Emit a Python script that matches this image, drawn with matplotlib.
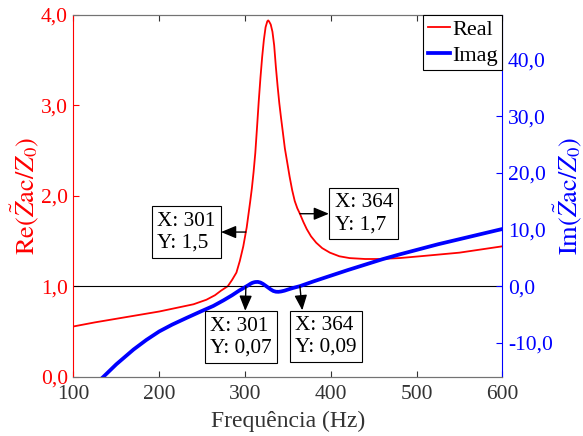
import matplotlib
matplotlib.use("Agg")
import matplotlib.pyplot as plt
import numpy as np
from matplotlib.ticker import FuncFormatter

plt.rcParams['font.family'] = ['Liberation Serif', 'DejaVu Serif']
plt.rcParams['mathtext.fontset'] = 'stix'

# ---- data ----
freq_re = [100, 125, 150, 175, 200, 225, 240, 255, 265, 272, 280, 285, 290, 294,
           298, 302, 304, 306, 308, 310, 312, 314, 316, 318, 320, 322, 324, 326,
           327, 328, 330, 332, 334, 336, 338, 340, 342, 344, 346.5, 349, 352,
           355, 358, 361, 364, 368, 372, 377, 383, 390, 399, 410, 422, 440, 457,
           480, 504, 550, 600]
real_part = [0.555, 0.60, 0.64, 0.68, 0.72, 0.77, 0.80, 0.85, 0.90, 0.95, 1.00,
             1.07, 1.15, 1.28, 1.44, 1.65, 1.79, 1.93, 2.08, 2.26, 2.47, 2.75,
             3.04, 3.30, 3.53, 3.72, 3.86, 3.925, 3.935, 3.925, 3.89, 3.81, 3.66,
             3.42, 3.21, 3.02, 2.86, 2.71, 2.52, 2.38, 2.21, 2.06, 1.94, 1.86,
             1.80, 1.71, 1.63, 1.55, 1.48, 1.42, 1.37, 1.33, 1.31, 1.30, 1.30,
             1.31, 1.33, 1.37, 1.44]

freq_im = [128, 135, 150, 170, 185, 200, 215, 232, 248, 263, 275, 285, 293, 302,
           304, 306, 308, 310, 312, 315, 318, 321, 324, 327, 330, 333, 336, 339,
           342, 346, 350, 356, 364, 380, 400, 420, 440, 460, 480, 500, 525, 550,
           575, 600]
imag_part = [-17.0, -16.0, -13.8, -11.2, -9.5, -8.0, -6.8, -5.6, -4.5, -3.5, -2.5,
             -1.6, -0.8, 0.0, 0.18, 0.38, 0.55, 0.66, 0.73, 0.75, 0.64, 0.40,
             0.08, -0.25, -0.58, -0.85, -0.98, -1.0, -0.94, -0.80, -0.60, -0.32,
             0.0, 0.85, 1.85, 2.85, 3.8, 4.75, 5.6, 6.4, 7.4, 8.3, 9.2, 10.1]

tip_x = [301, 364]
tip_re_labels = ['1,5', '1,7']
tip_im_labels = ['0,07', '0,09']

x_ticks = [100, 200, 300, 400, 500, 600]
left_ticks = [0, 1, 2, 3, 4]
right_ticks = [-10, 0, 10, 20, 30, 40]

fig = plt.figure(figsize=(5.83, 4.36), dpi=100)
ax = fig.add_axes([0.126, 0.136, 0.8616 - 0.126, 0.9667 - 0.136])
ax2 = ax.twinx()

comma = FuncFormatter(lambda v, p: f"{v:.1f}".replace('.', ','))

l1, = ax.plot(freq_re, real_part, color='red', lw=1.3, label='Real')
ax.axhline(1.0, color='black', lw=0.8)
l2, = ax2.plot(freq_im, imag_part, color='blue', lw=2.7, label='Imag')

ax.set_xlim(100, 600)
ax.set_ylim(0, 4)
ax2.set_ylim(-16, 48)
ax.set_xticks(x_ticks)
ax.set_yticks(left_ticks)
ax2.set_yticks(right_ticks)
ax.yaxis.set_major_formatter(comma)
ax2.yaxis.set_major_formatter(comma)

ax.tick_params(axis='x', direction='in', top=True, length=4, labelsize=15.5,
               colors='0.2', pad=6)
ax.tick_params(axis='y', direction='in', length=4, labelsize=15.5, colors='red', pad=4)
ax2.tick_params(axis='y', direction='in', length=4, labelsize=15.5, colors='blue', pad=4)

for a in (ax, ax2):
    a.spines['top'].set_color('0.45')
    a.spines['bottom'].set_color('0.45')
ax.spines['left'].set_color('red')
ax2.spines['left'].set_visible(False)
ax.spines['right'].set_visible(False)
ax2.spines['right'].set_color('blue')

ax.set_xlabel('Frequência (Hz)', fontsize=17, color='0.2', labelpad=5)
ax.set_ylabel(r'$\mathrm{Re}(\tilde{Z}\mathrm{ac}/Z_0)$', fontsize=19, color='red')
ax2.set_ylabel(r'$\mathrm{Im}(\tilde{Z}\mathrm{ac}/Z_0)$', fontsize=19, color='blue')
ax.yaxis.label.set_va('center')
ax2.yaxis.label.set_va('center')
ax.yaxis.set_label_coords(-0.113, 0.5)
ax2.yaxis.set_label_coords(1.153, 0.5)

leg = ax2.legend([l1, l2], ['Real', 'Imag'], loc='upper right', fontsize=16,
                 frameon=True, fancybox=False, edgecolor='black', framealpha=1,
                 borderaxespad=0, handlelength=1.0, handletextpad=0.1,
                 borderpad=0.2, labelspacing=0.25)
leg.get_frame().set_linewidth(0.8)

bbox = dict(boxstyle='square,pad=0.25', fc='white', ec='black', lw=0.8)
arrow = dict(arrowstyle='<|-, head_width=0.25, head_length=0.6', color='black',
             lw=1.0, shrinkA=0, shrinkB=0)
tipfs = 15.3

re_y = [float(np.interp(x, freq_re, real_part)) for x in tip_x]
im_y = [float(np.interp(x, freq_im, imag_part)) for x in tip_x]

# Real datatips
ax2.annotate(f"X: {tip_x[0]}\nY: {tip_re_labels[0]}", xy=(tip_x[0], re_y[0]),
             xycoords=ax.transData, xytext=(-22, 0), textcoords='offset points',
             ha='right', va='center', multialignment='left', fontsize=tipfs,
             bbox=bbox, arrowprops=dict(arrow, relpos=(1.0, 0.5)), zorder=10)
ax2.annotate(f"X: {tip_x[1]}\nY: {tip_re_labels[1]}", xy=(tip_x[1], re_y[1]),
             xycoords=ax.transData, xytext=(25, 0), textcoords='offset points',
             ha='left', va='center', multialignment='left', fontsize=tipfs,
             bbox=bbox, arrowprops=dict(arrow, relpos=(0.0, 0.5)), zorder=10)
# Imag datatips
ax2.annotate(f"X: {tip_x[0]}\nY: {tip_im_labels[0]}", xy=(tip_x[0], im_y[0]),
             xytext=(-25.8, -21.5), textcoords='offset points',
             ha='left', va='top', multialignment='left', fontsize=tipfs,
             bbox=bbox, arrowprops=dict(arrow, relpos=(0.57, 1.0)), zorder=10)
ax2.annotate(f"X: {tip_x[1]}\nY: {tip_im_labels[1]}", xy=(tip_x[1], im_y[1]),
             xytext=(-3.5, -21.5), textcoords='offset points',
             ha='left', va='top', multialignment='left', fontsize=tipfs,
             bbox=bbox, arrowprops=dict(arrow, relpos=(0.127, 1.0)), zorder=10)

fig.savefig('out.png', dpi=100)
